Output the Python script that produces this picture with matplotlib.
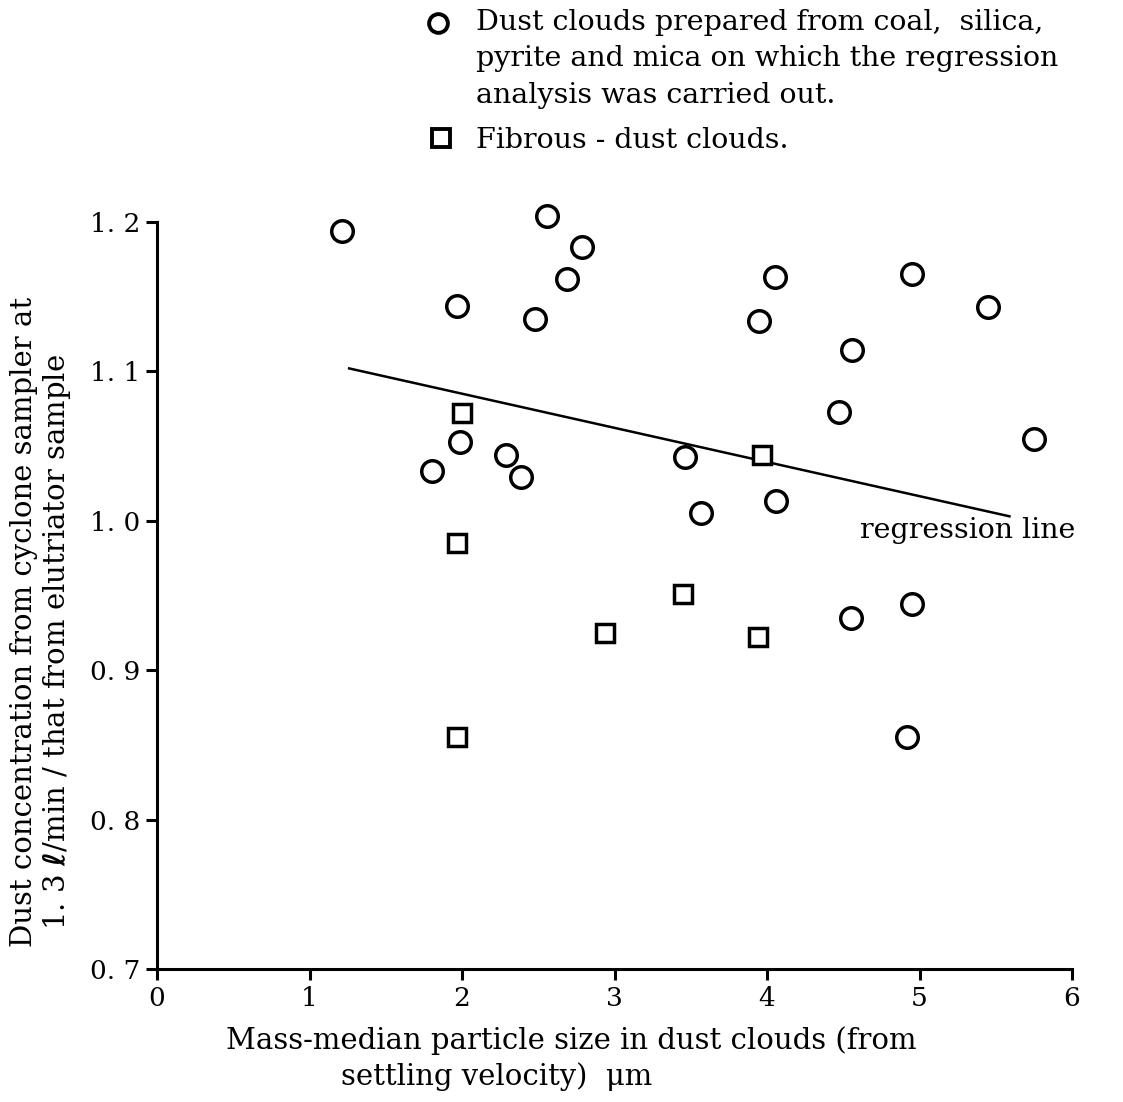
import matplotlib
matplotlib.use("Agg")
import matplotlib.pyplot as plt
from matplotlib.lines import Line2D

plt.rcParams['font.family'] = ['DejaVu Serif']

# Circles: coal, silica, pyrite, mica dust clouds
circle_x = [1.21, 2.56, 2.79, 2.69, 1.97, 2.48, 4.05, 4.95, 5.45, 3.95, 4.56, 4.47,
            5.75, 1.99, 1.80, 2.29, 2.39, 3.46, 3.57, 4.06, 4.55, 4.95, 4.92]
circle_y = [1.194, 1.204, 1.183, 1.162, 1.144, 1.135, 1.163, 1.165, 1.143, 1.134, 1.114, 1.073,
            1.055, 1.053, 1.033, 1.044, 1.029, 1.043, 1.005, 1.013, 0.935, 0.944, 0.855]
# Squares: fibrous dust clouds
square_x = [2.00, 1.97, 1.97, 2.94, 3.45, 3.97, 3.94]
square_y = [1.072, 0.985, 0.855, 0.925, 0.951, 1.044, 0.922]
# Regression line end points
reg_x = [1.26, 5.59]
reg_y = [1.102, 1.003]

x_ticks = [0, 1, 2, 3, 4, 5, 6]
y_ticks = [0.7, 0.8, 0.9, 1.0, 1.1, 1.2]
y_tick_labels = ["0. 7", "0. 8", "0. 9", "1. 0", "1. 1", "1. 2"]

legend_lines = ["Dust clouds prepared from coal,  silica,",
                "pyrite and mica on which the regression",
                "analysis was carried out."]
legend_square = "Fibrous - dust clouds."
xlabel_lines = ["Mass-median particle size in dust clouds (from",
                "settling velocity)  \u03bcm"]
ylabel_lines = ["Dust concentration from cyclone sampler at",
                "1. 3 $\\boldsymbol{\\ell}$/min / that from elutriator sample"]

W, H = 1123, 1102
fig = plt.figure(figsize=(W / 100, H / 100), dpi=100)
ax = fig.add_axes([157 / W, 1 - 969 / H, (1072 - 157) / W, (969 - 222) / H])


def fx(px):
    return px / W


def fy(py):
    return 1 - py / H


ax.plot(circle_x, circle_y, linestyle='none', marker='o', ms=15.5, mfc='white',
        mec='black', mew=2.5, clip_on=False, zorder=3)
ax.plot(square_x, square_y, linestyle='none', marker='s', ms=13.5, mfc='white',
        mec='black', mew=2.5, clip_on=False, zorder=3)
ax.plot(reg_x, reg_y, color='black', lw=1.8, zorder=2)
fig.text(fx(860), fy(531), "regression line", fontsize=20.5, ha='left', va='center')

ax.set_xlim(0, 6)
ax.set_ylim(0.7, 1.2)
ax.set_xticks(x_ticks)
ax.set_xticklabels([str(t) for t in x_ticks], fontsize=19)
ax.set_yticks(y_ticks)
ax.set_yticklabels(y_tick_labels, fontsize=19)
for s in ['top', 'right']:
    ax.spines[s].set_visible(False)
for s in ['left', 'bottom']:
    ax.spines[s].set_linewidth(2.2)
ax.tick_params(direction='out', length=8, width=2.2, pad=4)

# Axis labels placed as text
fig.text(fx(571), fy(1041), xlabel_lines[0], fontsize=21, ha='center', va='center')
fig.text(fx(497), fy(1077), xlabel_lines[1], fontsize=21, ha='center', va='center')
fig.text(fx(24), fy(622), ylabel_lines[0], fontsize=21, ha='center', va='center', rotation=90)
fig.text(fx(57), fy(642), ylabel_lines[1], fontsize=21, ha='center', va='center', rotation=90)

# Manual legend
fig.add_artist(Line2D([fx(438)], [fy(23)], marker='o', ms=13.5, mfc='white',
                      mec='black', mew=2.8, transform=fig.transFigure))
fig.add_artist(Line2D([fx(441)], [fy(138)], marker='s', ms=12.5, mfc='white',
                      mec='black', mew=2.8, transform=fig.transFigure))
for i, line in enumerate(legend_lines):
    fig.text(fx(476), fy(23 + 36 * i), line, fontsize=20.5, va='center', ha='left')
fig.text(fx(476), fy(140), legend_square, fontsize=20.5, va='center', ha='left')

fig.savefig("out.png", dpi=100)
